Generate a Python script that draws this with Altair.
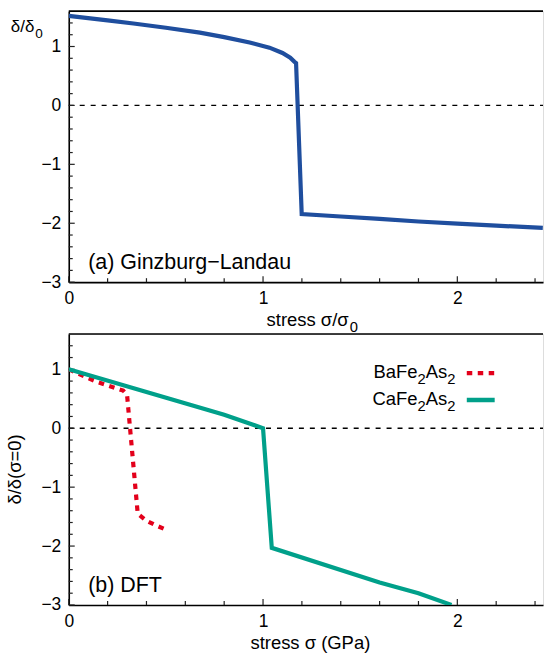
import re
import altair as alt
import pandas as pd

# ---------------- data ----------------
# (a) Ginzburg-Landau
gl_x = [0.0, 0.1, 0.2, 0.333, 0.5, 0.675, 0.8, 0.931, 1.033, 1.1, 1.14, 1.162, 1.17,
        1.199, 1.4, 1.6, 1.8, 2.0, 2.2, 2.44]
gl_y = [1.52, 1.483, 1.444, 1.39, 1.318, 1.236, 1.16, 1.067, 0.98, 0.89, 0.81, 0.74, 0.72,
        -1.845, -1.885, -1.925, -1.97, -2.005, -2.04, -2.08]

# (b) DFT
ba_x = [0.0, 0.06, 0.15, 0.28, 0.30, 0.355, 0.40, 0.45, 0.50]
ba_y = [1.0, 0.91, 0.78, 0.64, 0.57, -1.45, -1.57, -1.65, -1.72]
ca_x = [0.0, 0.8, 1.0, 1.045, 1.6, 1.8, 1.97]
ca_y = [1.0, 0.23, 0.0, -2.03, -2.62, -2.8, -3.0]
series_names = ["BaFe2As2", "CaFe2As2"]   # digits are drawn as subscripts

# axes / ticks
x_domain = [0, 2.441]
y_domain = [-3, 1.6]
x_major = [0, 1, 2]
x_minor = [0.2, 0.4, 0.6, 0.8, 1.2, 1.4, 1.6, 1.8, 2.2, 2.4]
y_major = [-3, -2, -1, 0, 1]
y_minor = [-2.8, -2.6, -2.4, -2.2, -1.8, -1.6, -1.4, -1.2, -0.8, -0.6, -0.4, -0.2,
           0.2, 0.4, 0.6, 0.8, 1.2, 1.4]
panel_labels = ["(a) Ginzburg\u2212Landau", "(b) DFT"]
label_x = [0.1]
label_y = [-2.78]

# ---------------- style ----------------
FONT = "Liberation Sans"
FS_TICK = 17.5
FS_TITLE = 18.5
FS_YT = 17       # top-left y title
FS_ANN = 21.5    # panel labels
FS_LEG = 18.5    # legend
W, H = 476, 272
BLUE = "#1f4e9e"
RED = "#e3001b"
TEAL = "#00a08a"
DASH = [5.5, 5.5]

# Arial / Liberation Sans advance widths (per em)
ADV = {"A": .667, "B": .667, "C": .722, "F": .611, "a": .556, "e": .556, "s": .5}
for d in "0123456789":
    ADV[d] = .556

xs = alt.Scale(domain=x_domain, nice=False, zero=False)
ys = alt.Scale(domain=y_domain, nice=False, zero=False)


def txt(s, x, y, size, align="left", baseline="alphabetic", angle=0):
    return alt.Chart(pd.DataFrame({"t": [s]})).mark_text(
        align=align, baseline=baseline, font=FONT, fontSize=size, angle=angle,
        color="black").encode(text="t:N", x=alt.value(x), y=alt.value(y))


def x_axis():
    return alt.Axis(values=x_major, format="d", title=None, ticks=False, tickSize=0,
                    grid=False, domain=True, domainColor="black", domainWidth=1.6,
                    labelFont=FONT, labelFontSize=FS_TICK, labelColor="black", labelPadding=7.5,
                    labelFlush=False)


def y_axis():
    return alt.Axis(values=y_major, format="d", title=None, ticks=False, tickSize=0,
                    grid=False, domain=True, domainColor="black", domainWidth=1.6,
                    labelFont=FONT, labelFontSize=FS_TICK, labelColor="black", labelPadding=8,
                    labelFlush=False)


def frame_layers(label):
    xa, ya = x_axis(), y_axis()
    X = lambda: alt.X("x:Q", scale=xs, axis=xa)
    Y = lambda: alt.Y("y:Q", scale=ys, axis=ya)
    layers = []
    layers.append(alt.Chart(pd.DataFrame({"y": [0]})).mark_rule(
        color="black", strokeWidth=1.3, strokeDash=[5, 6]).encode(
        y=Y(), x=alt.value(0), x2=alt.value(W)))
    layers.append(alt.Chart(pd.DataFrame({"y": [y_domain[1]]})).mark_rule(
        color="black", strokeWidth=1.6).encode(y=Y(), x=alt.value(0), x2=alt.value(W)))
    layers.append(alt.Chart(pd.DataFrame({"x": x_major})).mark_rule(
        color="#222", strokeWidth=1.2).encode(x=X(), y=alt.value(H), y2=alt.value(H - 6)))
    layers.append(alt.Chart(pd.DataFrame({"x": x_minor})).mark_rule(
        color="#222", strokeWidth=1.2).encode(x=X(), y=alt.value(H), y2=alt.value(H - 4)))
    layers.append(alt.Chart(pd.DataFrame({"y": y_major})).mark_rule(
        color="#222", strokeWidth=1.2).encode(y=Y(), x=alt.value(0), x2=alt.value(6)))
    layers.append(alt.Chart(pd.DataFrame({"y": y_minor})).mark_rule(
        color="#222", strokeWidth=1.2).encode(y=Y(), x=alt.value(0), x2=alt.value(4)))
    layers.append(alt.Chart(pd.DataFrame({"x": label_x, "y": label_y, "t": [label]})).mark_text(
        align="left", baseline="alphabetic", font=FONT, fontSize=FS_ANN, color="black").encode(
        x=X(), y=Y(), text="t:N"))
    return layers, X, Y


SUB = 0.8          # subscript size factor
SUB_DY = 0.34      # subscript drop (em)

# ---------------- panel (a) ----------------
fl_a, Xa, Ya = frame_layers(panel_labels[0])
gl_df = pd.DataFrame({"x": gl_x, "y": gl_y, "i": list(range(len(gl_x)))})
gl_line = alt.Chart(gl_df).mark_line(color=BLUE, strokeWidth=4.2, clip=True).encode(
    x=Xa(), y=Ya(), order="i:Q")
titles_a = [
    txt("\u03b4/\u03b4", -34.5, 21, FS_YT, align="right"),
    txt("0", -33.5, 21 + SUB_DY * FS_YT, FS_YT * SUB),
    txt("stress \u03c3/\u03c3", 281, H + 44, FS_TITLE, align="right"),
    txt("0", 282, H + 44 + SUB_DY * FS_TITLE, FS_TITLE * SUB),
]
top = alt.layer(*fl_a, gl_line, *titles_a).properties(width=W, height=H)

# ---------------- panel (b) ----------------
fl_b, Xb, Yb = frame_layers(panel_labels[1])
ba_df = pd.DataFrame({"x": ba_x, "y": ba_y, "i": list(range(len(ba_x)))})
ca_df = pd.DataFrame({"x": ca_x, "y": ca_y, "i": list(range(len(ca_x)))})
ba_line = alt.Chart(ba_df).mark_line(color=RED, strokeWidth=4.2, strokeDash=DASH, clip=True).encode(
    x=Xb(), y=Yb(), order="i:Q")
ca_line = alt.Chart(ca_df).mark_line(color=TEAL, strokeWidth=4.2, clip=True).encode(
    x=Xb(), y=Yb(), order="i:Q")
titles_b = [
    txt("stress \u03c3 (GPa)", 242.5, H + 44, FS_TITLE, align="center"),
    txt("\u03b4/\u03b4(\u03c3=0)", -53.5, H / 2, FS_TITLE, align="center", baseline="middle", angle=270),
]

# legend (gnuplot style: label, then line sample)
LEG_R = 388.2               # right edge of the labels
LEG_S0, LEG_S1 = 399.5, 427.5
LEG_Y = [39.3, 66.3]        # sample rows
LEG_BASE = [44.3, 71.3]     # label baselines
leg_layers = []
for k, (name, col, dash) in enumerate(zip(series_names, [RED, TEAL], [DASH, [1, 0]])):
    pieces = re.findall(r"[A-Za-z]+|\d+", name)
    sizes = [FS_LEG * SUB if p.isdigit() else FS_LEG for p in pieces]
    widths = [sum(ADV.get(c, .556) for c in p) * s for p, s in zip(pieces, sizes)]
    xpos = LEG_R - sum(widths)
    for p, s, w in zip(pieces, sizes, widths):
        dy = SUB_DY * FS_LEG if p.isdigit() else 0
        leg_layers.append(txt(p, xpos, LEG_BASE[k] + dy, s))
        xpos += w
    leg_layers.append(alt.Chart(pd.DataFrame({"t": [name]})).mark_rule(
        color=col, strokeWidth=4.5, strokeDash=dash).encode(
        x=alt.value(LEG_S0), x2=alt.value(LEG_S1), y=alt.value(LEG_Y[k])))

bottom = alt.layer(*fl_b, ba_line, ca_line, *titles_b, *leg_layers).properties(width=W, height=H)

chart = alt.vconcat(top, bottom, spacing=52, bounds="flush").properties(
    padding={"left": 6, "top": 8, "right": 0, "bottom": 0}
).configure_view(stroke=None).configure(background="white")

chart.save("out.html", embed_options={"renderer": "svg", "actions": False})
